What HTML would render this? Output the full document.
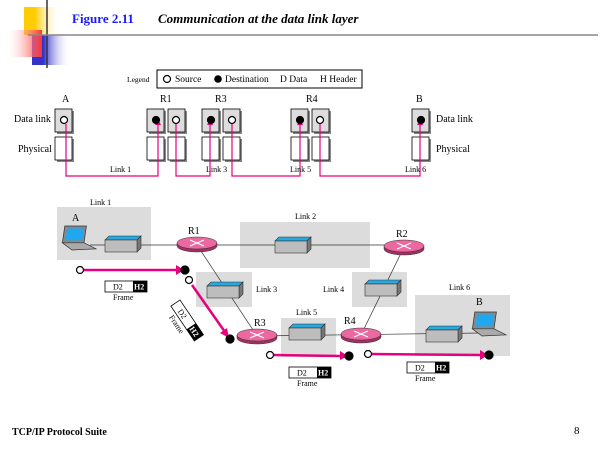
<!DOCTYPE html>
<html><head><style>
body{margin:0;width:600px;height:450px;background:#fff;overflow:hidden}
svg{display:block}
text{font-family:"Liberation Serif",serif}
</style></head><body>
<svg width="600" height="450" viewBox="0 0 600 450" xmlns="http://www.w3.org/2000/svg">
<defs>
<linearGradient id="gy" x1="0" x2="1"><stop offset="0.3" stop-color="#ffcc00"/><stop offset="1" stop-color="#fff" stop-opacity="0"/></linearGradient>
<linearGradient id="gr" x1="1" x2="0"><stop offset="0" stop-color="#ff3333"/><stop offset="1" stop-color="#fff" stop-opacity="0"/></linearGradient>
<linearGradient id="gb" x1="0" x2="1"><stop offset="0.3" stop-color="#3333cc"/><stop offset="1" stop-color="#fff" stop-opacity="0"/></linearGradient>
<g id="sw"><polygon points="0,4 4,0 36,0 32,4" fill="#29a8e0" stroke="#333" stroke-width="0.6"/><polygon points="32,4 36,0 36,12 32,16" fill="#777" stroke="#333" stroke-width="0.6"/><rect x="0" y="4" width="32" height="12" fill="#bdbdbd" stroke="#333" stroke-width="0.6"/></g>
<g id="rt"><path d="M-20,0 v3 a20,6 0 0 0 40,0 v-3z" fill="#a03060" stroke="#333" stroke-width="0.5"/><ellipse cx="0" cy="0" rx="20" ry="6" fill="#ec68a0" stroke="#333" stroke-width="0.5"/><path d="M-7,-3 L7,3 M-7,3 L7,-3" stroke="#fff" stroke-width="1.2"/></g>
<g id="lt"><polygon points="4,0 22,0 20,14 2,14" fill="#888" stroke="#333" stroke-width="0.6"/><polygon points="6,2 20,2 18.5,12 4.5,12" fill="#1fa8f0"/><polygon points="2,14 20,14 30,19 10,20" fill="#aaa" stroke="#333" stroke-width="0.6"/></g>
<g id="db"><rect x="2" y="2" width="17" height="23" fill="#888"/><rect x="0" y="0" width="17" height="23" fill="#ddd" stroke="#000" stroke-width="0.8"/></g>
<g id="pb"><rect x="2" y="2" width="17" height="23" fill="#888"/><rect x="0" y="0" width="17" height="23" fill="#fff" stroke="#000" stroke-width="0.8"/></g>
</defs>
<rect x="24" y="7" width="36" height="28" fill="url(#gy)"/>
<rect x="32" y="35" width="38" height="30" fill="url(#gb)"/>
<rect x="5" y="30" width="37" height="27" fill="url(#gr)"/>
<line x1="47" y1="0" x2="47" y2="68" stroke="#333" stroke-width="1.5"/>
<line x1="28" y1="35" x2="598" y2="35" stroke="#888" stroke-width="1.5"/>
<text x="72" y="23" font-size="13" font-weight="bold" fill="#1a1aff">Figure 2.11</text>
<text x="158" y="23" font-size="13" font-weight="bold" font-style="italic">Communication at the data link layer</text>
<text x="127" y="82" font-size="7.5">Legend</text>
<rect x="157" y="70" width="205" height="18" fill="#fff" stroke="#000"/>
<circle cx="167" cy="79" r="3.5" fill="#fff" stroke="#000" stroke-width="1.2"/>
<text x="175" y="82" font-size="9.5">Source</text>
<circle cx="218" cy="79" r="3.8" fill="#000"/>
<text x="225" y="82" font-size="9.5">Destination</text>
<text x="280" y="82" font-size="9.5">D Data</text>
<text x="320" y="82" font-size="9.5">H Header</text>
<g font-size="10">
<text x="62" y="102">A</text><text x="160" y="102">R1</text><text x="215" y="102">R3</text><text x="306" y="102">R4</text><text x="416" y="102">B</text>
<text x="14" y="122">Data link</text><text x="18" y="152">Physical</text>
<text x="436" y="122">Data link</text><text x="436" y="152">Physical</text>
</g>
<g>
<use href="#db" x="55" y="109"/><use href="#pb" x="55" y="137"/>
<use href="#db" x="147" y="109"/><use href="#pb" x="147" y="137"/>
<use href="#db" x="168" y="109"/><use href="#pb" x="168" y="137"/>
<use href="#db" x="202" y="109"/><use href="#pb" x="202" y="137"/>
<use href="#db" x="223" y="109"/><use href="#pb" x="223" y="137"/>
<use href="#db" x="291" y="109"/><use href="#pb" x="291" y="137"/>
<use href="#db" x="312" y="109"/><use href="#pb" x="312" y="137"/>
<use href="#db" x="412" y="109"/><use href="#pb" x="412" y="137"/>
</g>
<g fill="none" stroke="#e6007e" stroke-width="1.2">
<path d="M66,124 V176 H158 V124"/>
<path d="M176,124 V176 H210 V124"/>
<path d="M232,124 V176 H300 V124"/>
<path d="M320,124 V176 H420 V124"/>
</g>
<g fill="#e6007e"><polygon points="155,125 161,125 158,119"/><polygon points="207,125 213,125 210,119"/><polygon points="297,125 303,125 300,119"/><polygon points="417,125 423,125 420,119"/></g>
<g stroke="#000" stroke-width="1.2">
<circle cx="64" cy="120" r="3.5" fill="#fff"/>
<circle cx="156" cy="120" r="3.5" fill="#000"/><circle cx="176" cy="120" r="3.5" fill="#fff"/>
<circle cx="211" cy="120" r="3.5" fill="#000"/><circle cx="232" cy="120" r="3.5" fill="#fff"/>
<circle cx="300" cy="120" r="3.5" fill="#000"/><circle cx="320" cy="120" r="3.5" fill="#fff"/>
<circle cx="421" cy="120" r="3.5" fill="#000"/>
</g>
<g font-size="8"><text x="110" y="172">Link 1</text><text x="206" y="172">Link 3</text><text x="290" y="172">Link 5</text><text x="405" y="172">Link 6</text></g>
<g fill="#dcdcdc">
<rect x="57" y="207" width="94" height="53"/>
<rect x="240" y="222" width="130" height="46"/>
<rect x="196" y="272" width="56" height="35"/>
<rect x="352" y="272" width="55" height="35"/>
<rect x="281" y="318" width="55" height="39"/>
<rect x="415" y="295" width="95" height="61"/>
</g>
<g stroke="#333" stroke-width="0.7">
<line x1="90" y1="245" x2="400" y2="245"/>
<line x1="197" y1="245" x2="257" y2="336"/>
<line x1="404" y1="247" x2="361" y2="335"/>
<line x1="257" y1="336" x2="480" y2="333"/>
</g>
<use href="#lt" transform="translate(60,226) scale(1.2)"/>
<use href="#sw" x="105" y="236"/>
<use href="#sw" x="275" y="237"/>
<use href="#sw" x="207" y="282"/>
<use href="#sw" x="365" y="280"/>
<use href="#sw" x="289" y="324"/>
<use href="#sw" x="426" y="326"/>
<use href="#lt" transform="translate(470,312) scale(1.2)"/>
<use href="#rt" x="197" y="243"/>
<use href="#rt" x="404" y="246"/>
<use href="#rt" x="257" y="335"/>
<use href="#rt" x="361" y="334"/>
<g font-size="10"><text x="72" y="221">A</text><text x="188" y="234">R1</text><text x="396" y="237">R2</text><text x="254" y="326">R3</text><text x="344" y="324">R4</text><text x="476" y="305">B</text></g>
<g font-size="8"><text x="90" y="205">Link 1</text><text x="295" y="219">Link 2</text><text x="256" y="292">Link 3</text><text x="323" y="292">Link 4</text><text x="296" y="315">Link 5</text><text x="449" y="290">Link 6</text></g>
<g stroke="#e6007e" stroke-width="2.5" fill="none">
<line x1="83" y1="270" x2="176" y2="270"/>
<line x1="192" y1="285" x2="225" y2="332"/>
<line x1="273" y1="355" x2="340" y2="356"/>
<line x1="372" y1="354" x2="481" y2="355"/>
</g>
<g fill="#e6007e">
<polygon points="176,265 184,270 176,275"/>
<polygon points="220,333 229,338 227,328"/>
<polygon points="340,351 348,356 340,360"/>
<polygon points="480,350 488,355 480,360"/>
</g>
<g stroke="#000" stroke-width="1.2">
<circle cx="80" cy="270" r="3.5" fill="#fff"/><circle cx="185" cy="270" r="4" fill="#000"/>
<circle cx="189" cy="280" r="3.5" fill="#fff"/><circle cx="230" cy="339" r="4" fill="#000"/>
<circle cx="270" cy="355" r="3.5" fill="#fff"/><circle cx="349" cy="356" r="4" fill="#000"/>
<circle cx="368" cy="354" r="3.5" fill="#fff"/><circle cx="489" cy="355" r="4" fill="#000"/>
</g>
<g font-size="8">
<g transform="translate(105,281)"><rect width="42" height="11" fill="#fff" stroke="#000" stroke-width="0.8"/><rect x="28" width="14" height="11" fill="#000"/><text x="8" y="8.5">D2</text><text x="29" y="8.5" fill="#fff" font-weight="bold">H2</text><text x="8" y="19">Frame</text></g>
<g transform="translate(289,367)"><rect width="42" height="11" fill="#fff" stroke="#000" stroke-width="0.8"/><rect x="28" width="14" height="11" fill="#000"/><text x="8" y="8.5">D2</text><text x="29" y="8.5" fill="#fff" font-weight="bold">H2</text><text x="8" y="19">Frame</text></g>
<g transform="translate(407,362)"><rect width="42" height="11" fill="#fff" stroke="#000" stroke-width="0.8"/><rect x="28" width="14" height="11" fill="#000"/><text x="8" y="8.5">D2</text><text x="29" y="8.5" fill="#fff" font-weight="bold">H2</text><text x="8" y="19">Frame</text></g>
<g transform="translate(180,300) rotate(56)"><rect width="42" height="11" fill="#fff" stroke="#000" stroke-width="0.8"/><rect x="28" width="14" height="11" fill="#000"/><text x="8" y="8.5">D2</text><text x="29" y="8.5" fill="#fff" font-weight="bold">H2</text><text x="8" y="19">Frame</text></g>
</g>
<text x="12" y="435" font-family="Liberation Sans,sans-serif" font-size="10" font-weight="bold">TCP/IP Protocol Suite</text>
<text x="574" y="434" font-family="Liberation Sans,sans-serif" font-size="11">8</text>
</svg>
</body></html>
